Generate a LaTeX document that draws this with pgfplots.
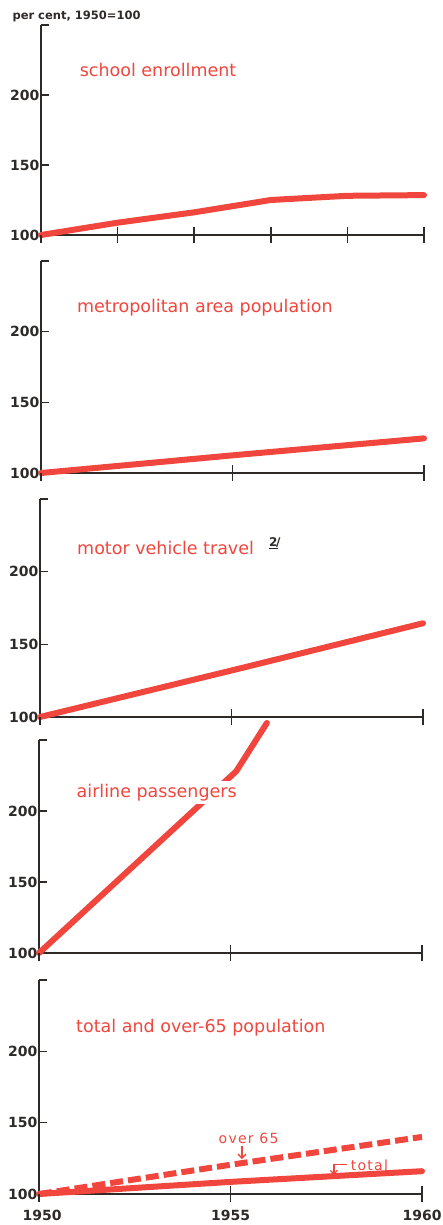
\documentclass[border=0pt]{standalone}
\usepackage{fontspec}
\setmainfont{DejaVu Sans}
\usepackage{pgfplots}
\pgfplotsset{compat=1.18}
\usetikzlibrary{arrows.meta}

\definecolor{lred}{RGB}{240,70,62}
\definecolor{axisgray}{RGB}{45,42,40}

\pgfplotsset{
  panel/.style={
    scale only axis,
    width=383pt,
    xmin=1950, xmax=1960,
    ymin=100, ymax=250,
    axis lines=left,
    axis line style={-, line width=1.5pt, axisgray},
    ytick={100,150,200,250},
    yticklabels={100,150,200,{}},
    xticklabels={},
    tick align=inside,
    major tick length=8pt,
    tick style={line width=1.5pt, axisgray},
    x tick style={draw=none},
    yticklabel style={font=\bfseries\fontsize{14}{14}\selectfont, text=axisgray, xshift=2pt},
    clip=false,
    anchor=south west,
  },
}
\tikzset{
  dataline/.style={lred, line width=6pt, line cap=round, line join=round},
  ttl/.style={anchor=base west, text=lred, font=\fontsize{17.5}{17.5}\selectfont},
  ann/.style={anchor=base west, text=lred, font=\fontsize{14}{14}\selectfont\addfontfeature{LetterSpace=9}},
  xt/.style={axisgray, line width=1.5pt},
  xl/.style={anchor=north, yshift=-13pt, text=axisgray, font=\bfseries\fontsize{14}{14}\selectfont},
}

\begin{document}
\begin{tikzpicture}
\useasboundingbox (0,0) rectangle (442pt,-1225pt);

\node[anchor=west, text=axisgray, font=\bfseries\fontsize{11.5}{11.5}\selectfont] at (9pt,-16pt) {per cent, 1950=100};

% school enrollment
\begin{axis}[panel, at={(41pt,-235pt)}, height=210pt]
  \addplot[dataline] coordinates {(1950,100) (1952,108.8) (1954,116.2) (1956,125) (1958,128) (1960,128.5)};
  \node[ttl] at (axis cs:1950.92,213) {school enrollment};
  \draw[xt] (axis cs:1950,100) ++(0pt,-8pt) -- ++(0pt,8pt);
  \draw[xt] (axis cs:1952,100) ++(0pt,-8pt) -- ++(0pt,16pt);
  \draw[xt] (axis cs:1954,100) ++(0pt,-8pt) -- ++(0pt,16pt);
  \draw[xt] (axis cs:1956,100) ++(0pt,-8pt) -- ++(0pt,16pt);
  \draw[xt] (axis cs:1958,100) ++(0pt,-8pt) -- ++(0pt,16pt);
  \draw[xt] (axis cs:1960,100) ++(0pt,-8pt) -- ++(0pt,16pt);
\end{axis}

% metropolitan area population
\begin{axis}[panel, at={(41pt,-473pt)}, height=212pt]
  \addplot[dataline] coordinates {(1950,100) (1955,112.5) (1960,124.5)};
  \node[ttl] at (axis cs:1950.85,213.5) {metropolitan area population};
  \draw[xt] (axis cs:1950,100) ++(0pt,-8pt) -- ++(0pt,8pt);
  \draw[xt] (axis cs:1955,100) ++(0pt,-8pt) -- ++(0pt,16pt);
  \draw[xt] (axis cs:1960,100) ++(0pt,-8pt) -- ++(0pt,16pt);
\end{axis}

% motor vehicle travel
\begin{axis}[panel, at={(40pt,-717pt)}, height=218pt]
  \addplot[dataline] coordinates {(1950,100) (1955,132) (1960,164.5)};
  \node[ttl] at (axis cs:1950.88,212) {motor vehicle travel};
  \node[anchor=base west, inner sep=0pt, text=axisgray, font=\bfseries\fontsize{12}{12}\selectfont] at (axis cs:1955.98,217) {\underline{2}\kern-1.5pt/};
  \draw[xt] (axis cs:1950,100) ++(0pt,-8pt) -- ++(0pt,8pt);
  \draw[xt] (axis cs:1955,100) ++(0pt,-8pt) -- ++(0pt,16pt);
  \draw[xt] (axis cs:1960,100) ++(0pt,-8pt) -- ++(0pt,16pt);
\end{axis}

% airline passengers
\begin{axis}[panel, at={(39pt,-953pt)}, height=213pt]
  \addplot[dataline] coordinates {(1950,100) (1955.15,228) (1955.95,262)};
  \node[ttl, fill=white, inner sep=3pt] at (axis cs:1950.9,209.5) {airline passengers};
  \draw[xt] (axis cs:1950,100) ++(0pt,-8pt) -- ++(0pt,8pt);
  \draw[xt] (axis cs:1955,100) ++(0pt,-8pt) -- ++(0pt,16pt);
  \draw[xt] (axis cs:1960,100) ++(0pt,-8pt) -- ++(0pt,16pt);
\end{axis}

% total and over-65 population
\begin{axis}[panel, at={(39pt,-1194pt)}, height=214pt]
  \addplot[dataline, line cap=butt, dash pattern=on 13pt off 5pt] coordinates {(1950,100) (1955,120.5) (1960,140)};
  \addplot[dataline] coordinates {(1950,100) (1955,108.5) (1960,116)};
  \node[ttl] at (axis cs:1950.88,213) {total and over-65 population};
  \node[ann] at (axis cs:1954.6,135.5) {over 65};
  \draw[lred, line width=1.3pt, -{Straight Barb[length=4pt]}] (axis cs:1955.3,133.5) -- (axis cs:1955.3,124.5);
  \node[ann] at (axis cs:1958.05,116.5) {total};
  \draw[lred, line width=1.3pt, -{Straight Barb[length=3.5pt]}] (axis cs:1958.05,120.5) -- (axis cs:1957.7,120.5) -- (axis cs:1957.7,113.5);
  \draw[xt] (axis cs:1950,100) ++(0pt,-8pt) -- ++(0pt,8pt);
  \draw[xt] (axis cs:1955,100) ++(0pt,-8pt) -- ++(0pt,16pt);
  \draw[xt] (axis cs:1960,100) ++(0pt,-8pt) -- ++(0pt,16pt);
  \node[xl, anchor=north west, xshift=-20pt] at (axis cs:1950,100) {1950};
  \node[xl] at (axis cs:1955,100) {1955};
  \node[xl] at (axis cs:1960,100) {1960};
\end{axis}
\end{tikzpicture}
\end{document}
